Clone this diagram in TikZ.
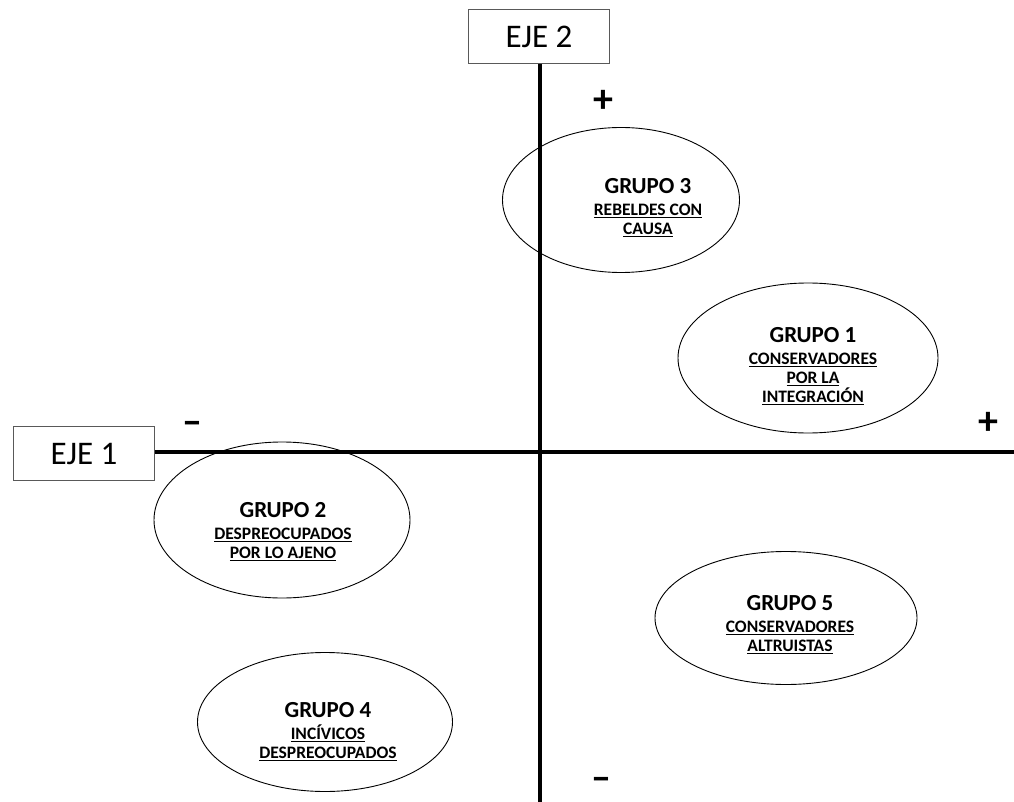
\documentclass[tikz,border=0pt]{standalone}
\usepackage{fontspec}
\setmainfont{Carlito}
\usetikzlibrary{shapes.geometric,positioning}
\begin{document}
\begin{tikzpicture}[x=1pt, y=-1pt,
    axisbox/.style={draw=black!65, line width=1.2pt, minimum width=141pt, minimum height=54pt, inner sep=0pt, font=\fontsize{33}{36}\selectfont},
    group/.style={draw, ellipse, line width=0.9pt, inner sep=0pt},
    grouptext/.style={align=center, inner sep=0pt, font=\fontsize{17.5}{19}\selectfont\bfseries},
    sign/.style={inner sep=0pt, font=\fontsize{40}{40}\selectfont\bfseries},
    axis/.style={line width=3.5pt}]
\useasboundingbox (0,0) rectangle (1014,802);

% axes
\node [axisbox] (eje1) at (84,453.5) {EJE 1};
\node [axisbox] (eje2) at (539,36.5) {EJE 2};
\coordinate (xend) at (1014,452);
\coordinate (ybot) at (540,802);
\draw [axis] (eje1.east |- xend) -- (xend);
\draw [axis] (ybot |- eje2.south) -- (ybot);

\node [sign] (yplus) at (603,101) {+};
\node [sign] (xminus) at (192,428) {–};
\node [sign] (xplus) at (988,423) {+};
\node [sign] (yminus) at (601,784) {–};

% groups
\node [group, minimum width=260pt, minimum height=150pt] (g1e) at (808,358) {};
\node [group, minimum width=256pt, minimum height=156pt] (g2e) at (282,520) {};
\node [group, minimum width=237pt, minimum height=145pt] (g3e) at (621,200) {};
\node [group, minimum width=255pt, minimum height=139pt] (g4e) at (325,722) {};
\node [group, minimum width=262pt, minimum height=133pt] (g5e) at (786,618) {};

\node [grouptext] (g1) at (813,366) {{\fontsize{23}{25}\selectfont GRUPO 1}\\[3pt]
  \underline{CONSERVADORES}\\ \underline{POR LA}\\ \underline{INTEGRACIÓN}};
\node [grouptext] (g2) at (283,532) {{\fontsize{23}{25}\selectfont GRUPO 2}\\[3pt]
  \underline{DESPREOCUPADOS}\\ \underline{POR LO AJENO}};
\node [grouptext] (g3) at (648,208) {{\fontsize{23}{25}\selectfont GRUPO 3}\\[3pt]
  \underline{REBELDES CON}\\ \underline{CAUSA}};
\node [grouptext] (g4) at (328,732) {{\fontsize{23}{25}\selectfont GRUPO 4}\\[3pt]
  \underline{INCÍVICOS}\\ \underline{DESPREOCUPADOS}};
\node [grouptext] (g5) at (790,625) {{\fontsize{23}{25}\selectfont GRUPO 5}\\[3pt]
  \underline{CONSERVADORES}\\ \underline{ALTRUISTAS}};

\end{tikzpicture}
\end{document}
